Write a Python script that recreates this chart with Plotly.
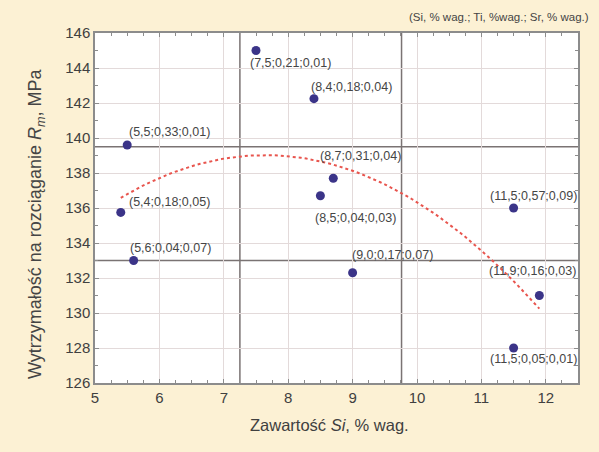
import numpy as np
import plotly.graph_objects as go

# Data
si = [7.5, 8.4, 5.5, 8.7, 8.5, 11.5, 5.4, 5.6, 9.0, 11.9, 11.5]
rm = [145.0, 142.25, 139.6, 137.7, 136.7, 136.0, 135.75, 133.0, 132.3, 131.0, 128.0]
labels = ["(7,5;0,21;0,01)", "(8,4;0,18;0,04)", "(5,5;0,33;0,01)", "(8,7;0,31;0,04)",
          "(8,5;0,04;0,03)", "(11,5;0,57;0,09)", "(5,4;0,18;0,05)", "(5,6;0,04;0,07)",
          "(9,0;0,17;0,07)", "(11,9;0,16;0,03)", "(11,5;0,05;0,01)"]
ref_x = [7.25, 9.76]
ref_y = [139.5, 133.0]
x_ticks = [5, 6, 7, 8, 9, 10, 11, 12]
y_ticks = [126, 128, 130, 132, 134, 136, 138, 140, 142, 144, 146]

# label offsets in pixels (style)
offsets = [(-8, -12), (-5, 12), (0, 13), (-15, 22), (-7, -22), (-26, 12),
           (6, 10), (-6, 13), (-3, 18), (-52, 25), (-26, -11)]

# quadratic trend fitted to the data
coef = np.polyfit(si, rm, 2)
xf = np.linspace(min(si), max(si), 80)
yf = np.polyval(coef, xf)

FONT = "Liberation Sans, Arial"
W, H = 599, 452
ML, MR, MT, MB = 95, 21, 33, 69
PW, PH = W - ML - MR, H - MT - MB


def px(x):
    return (x - ML) / PW


def py(y):
    return (H - MB - y) / PH


fig = go.Figure()
for xv in ref_x:
    fig.add_shape(type="line", xref="x", yref="paper", x0=xv, x1=xv, y0=0, y1=1,
                  line=dict(color="#7a7373", width=1.5), layer="below")
for yv in ref_y:
    fig.add_shape(type="line", xref="paper", yref="y", x0=0, x1=1, y0=yv, y1=yv,
                  line=dict(color="#7a7373", width=1.5), layer="below")

fig.add_trace(go.Scatter(x=xf, y=yf, mode="lines",
                         line=dict(color="#e8554e", width=2, dash="dot"),
                         hoverinfo="skip", showlegend=False))
fig.add_trace(go.Scatter(x=si, y=rm, mode="markers",
                         marker=dict(color="#3b3488", size=9),
                         showlegend=False, cliponaxis=False))

for xv, yv, t, (dx, dy) in zip(si, rm, labels, offsets):
    fig.add_annotation(x=xv, y=yv, xref="x", yref="y", text=t, showarrow=False,
                       xanchor="left", yanchor="middle", xshift=dx, yshift=dy,
                       font=dict(family=FONT, size=12.5, color="#454545"))

fig.add_annotation(x=px(591), y=py(17), xref="paper", yref="paper",
                   text="(Si, % wag.; Ti, %wag.; Sr, % wag.)",
                   showarrow=False, xanchor="right", yanchor="middle",
                   font=dict(family=FONT, size=11.5, color="#454545"))

# axis titles as annotations
fig.add_annotation(text="Wytrzymałość na rozciąganie <i>R</i><sub><i>m</i></sub>, MPa",
                   xref="paper", yref="paper", x=px(36), y=py(224), textangle=-90,
                   showarrow=False, xanchor="center", yanchor="middle",
                   font=dict(family=FONT, size=18, color="#454545"))
fig.add_annotation(text="Zawartość <i>Si</i>, % wag.",
                   xref="paper", yref="paper", x=px(329), y=py(425),
                   showarrow=False, xanchor="center", yanchor="middle",
                   font=dict(family=FONT, size=16.5, color="#404040"))

axis_common = dict(showline=True, mirror="ticks", linecolor="#8c8c8c", linewidth=1.5,
                   ticks="inside", ticklen=4, tickcolor="#8c8c8c",
                   showgrid=True, gridcolor="#e3dada", gridwidth=1, zeroline=False,
                   tickfont=dict(family=FONT, size=15, color="#404040"))

fig.update_xaxes(range=[5, 12.5], tickvals=x_ticks,
                 minor=dict(dtick=0.25, ticks="inside", ticklen=3, tickcolor="#8c8c8c", showgrid=False),
                 **axis_common)
fig.update_yaxes(range=[126, 146], tickvals=y_ticks,
                 minor=dict(dtick=1, ticks="inside", ticklen=3, tickcolor="#8c8c8c", showgrid=False),
                 **axis_common)

fig.update_layout(width=W, height=H,
                  margin=dict(l=ML, r=MR, t=MT, b=MB),
                  paper_bgcolor="#fcf1d4", plot_bgcolor="#ffffff",
                  font=dict(family=FONT))

fig.write_html("out.html", config={"displayModeBar": False},
               post_script="document.body.style.margin='0';document.body.style.background='#fcf1d4';")
